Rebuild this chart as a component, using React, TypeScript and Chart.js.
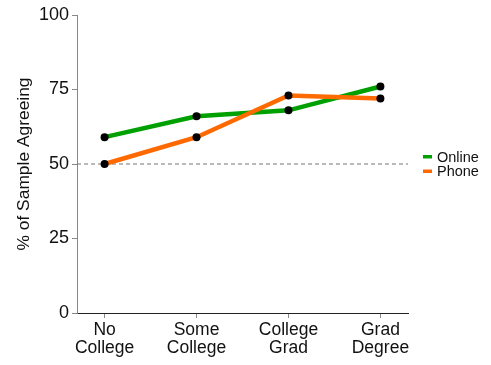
import React, { useEffect, useRef } from "react";
import { Chart, registerables } from "chart.js";

Chart.register(...registerables);

const categories = ["No\nCollege", "Some\nCollege", "College\nGrad", "Grad\nDegree"];
const onlineValues = [59, 66, 68, 76];
const phoneValues = [50, 59, 73, 72];
const referenceValue = 50;
const yTicks = [0, 25, 50, 75, 100];
const seriesNames = ["Online", "Phone"];
const seriesColors = ["#00a000", "#ff6a00"];

const FONT = "'Liberation Sans', Arial, sans-serif";

const legendPlugin = {
  id: "customLegend",
  afterDraw(chart: any) {
    const ctx = chart.ctx;
    const x0 = chart.chartArea.right + 15;
    const yc = (chart.chartArea.top + chart.chartArea.bottom) / 2;
    ctx.save();
    ctx.font = `14.5px ${FONT}`;
    ctx.textBaseline = "middle";
    seriesNames.forEach((name, i) => {
      const y = yc - 7.5 + i * 14.5;
      ctx.fillStyle = seriesColors[i];
      ctx.fillRect(x0, y - 1.5, 9, 3.5);
      ctx.fillStyle = "#111";
      ctx.fillText(name, x0 + 14, y + 1);
    });
    ctx.restore();
  },
};

export default function App() {
  const ref = useRef<HTMLCanvasElement>(null);
  useEffect(() => {
    const toPts = (vals: number[]) => vals.map((v, i) => ({ x: i, y: v }));
    const chart = new Chart(ref.current!, {
      type: "line",
      data: {
        datasets: [
          {
            label: seriesNames[0],
            data: toPts(onlineValues),
            borderColor: seriesColors[0],
            borderWidth: 4.5,
            pointBackgroundColor: "#000",
            pointBorderColor: "#000",
            pointRadius: 4,
            pointBorderWidth: 0,
            order: 2,
          },
          {
            label: seriesNames[1],
            data: toPts(phoneValues),
            borderColor: seriesColors[1],
            borderWidth: 4.5,
            pointBackgroundColor: "#000",
            pointBorderColor: "#000",
            pointRadius: 4,
            pointBorderWidth: 0,
            order: 1,
          },
          {
            label: "ref",
            data: [
              { x: -0.3, y: referenceValue },
              { x: 3.3, y: referenceValue },
            ],
            borderColor: "#777",
            borderWidth: 1.2,
            borderDash: [4, 3],
            pointRadius: 0,
            order: 3,
          },
        ],
      },
      options: {
        animation: false,
        responsive: false,
        devicePixelRatio: 1,
        layout: { padding: { top: 15, right: 83, left: 0, bottom: 0 } },
        plugins: { legend: { display: false }, tooltip: { enabled: false } },
        scales: {
          x: {
            type: "linear",
            min: -0.3,
            max: 3.3,
            afterBuildTicks: (s: any) => {
              s.ticks = categories.map((_, i) => ({ value: i }));
            },
            afterFit: (s: any) => {
              s.height = 52;
            },
            ticks: {
              callback: (v: any) => categories[Math.round(v)]?.split("\n") ?? "",
              color: "#111",
              font: { family: FONT, size: 17.5, lineHeight: 1.05 },
              padding: 3,
              maxRotation: 0,
              autoSkip: false,
            },
            grid: { drawOnChartArea: false, drawTicks: true, tickLength: 5, color: "#888" },
            border: { color: "#222", width: 1 },
          },
          y: {
            min: 0,
            max: 100,
            afterBuildTicks: (s: any) => {
              s.ticks = yTicks.map((v) => ({ value: v }));
            },
            afterFit: (s: any) => {
              s.width = 77;
            },
            ticks: {
              color: "#111",
              font: { family: FONT, size: 18 },
              padding: 3,
            },
            grid: { drawOnChartArea: false, drawTicks: true, tickLength: 5, color: "#888" },
            border: { color: "#888", width: 1 },
            title: {
              display: true,
              text: "% of Sample Agreeing",
              color: "#111",
              font: { family: FONT, size: 17.4 },
              padding: { top: 14, bottom: 6 },
            },
          },
        },
      },
      plugins: [legendPlugin],
    });
    return () => chart.destroy();
  }, []);
  return (
    <div style={{ position: "absolute", left: 0, top: 0, width: 491, height: 365, background: "#fff" }}>
      <canvas ref={ref} width={491} height={365} style={{ display: "block" }} />
    </div>
  );
}
